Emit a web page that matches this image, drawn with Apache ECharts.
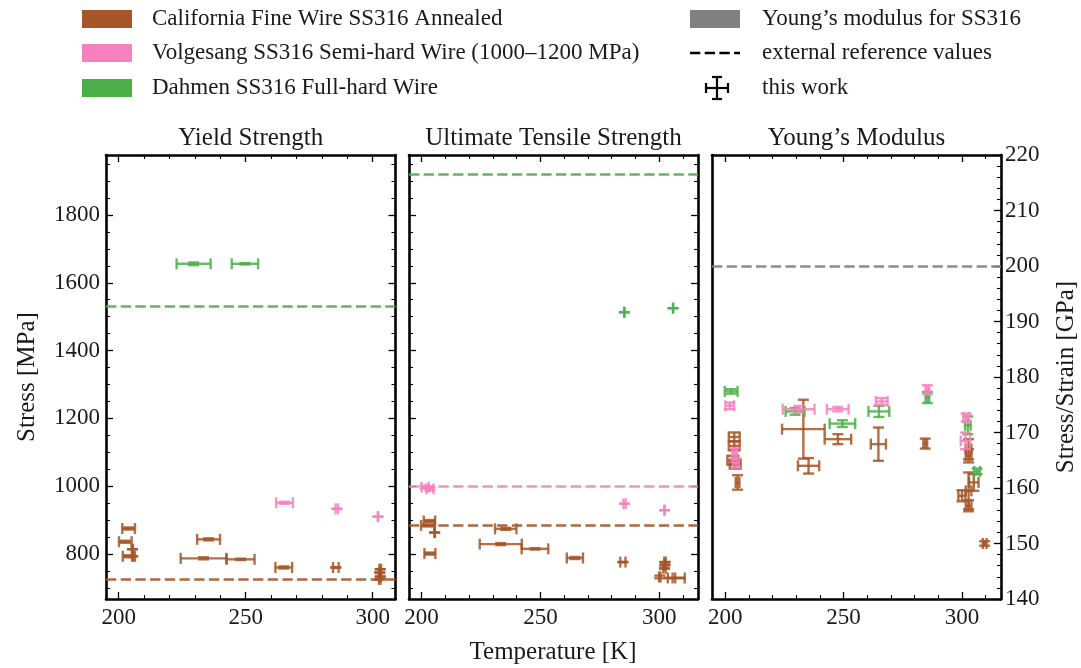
<!DOCTYPE html>
<html><head><meta charset="utf-8">
<script src="https://cdn.jsdelivr.net/npm/echarts@6/dist/echarts.min.js"></script>
<style>html,body{margin:0;padding:0;background:#fff}#c{width:1081px;height:668px}</style>
</head><body><div id="c"></div>
<script>
// ---------- DATA ----------  each point: [temperature K, value, xErr, yErr]
const panelTitles = ['Yield Strength', 'Ultimate Tensile Strength', "Young\u2019s Modulus"];
const seriesNames = ['California Fine Wire SS316 Annealed', 'Volgesang SS316 Semi-hard Wire (1000\u20131200 MPa)', 'Dahmen SS316 Full-hard Wire'];
const refLegendNames = ["Young\u2019s modulus for SS316", 'external reference values', 'this work'];

const yieldCalifornia = [
  [203.9, 875, 2.5, 3], [202.6, 836, 2.5, 3], [204.0, 793, 2.4, 3], [205.4, 814, 0.2, 0],
  [205.5, 793, 0.2, 0], [235.4, 843, 4.5, 3], [233.4, 787, 9.0, 3], [248.0, 784, 5.5, 2],
  [265.0, 760, 3.3, 3], [285.5, 760, 1.1, 0], [303.0, 755, 0.3, 0], [302.8, 745, 0.3, 0],
  [303.0, 733, 0.3, 2], [302.8, 725, 0.3, 0]
];
const yieldVolgesang = [[265.3, 951, 3.3, 3], [285.9, 933, 0.5, 0], [302.1, 910, 0, 0]];
const yieldDahmen = [[229.5, 1656, 6.7, 4], [249.7, 1656, 5.2, 2]];
const yieldRefs = [725, null, 1530];

const utsCalifornia = [
  [203.3, 897, 2.4, 3], [202.6, 884, 2.8, 3], [205.5, 863, 0, 0], [203.5, 801, 2.3, 3],
  [235.4, 874, 4.5, 3], [233.3, 829, 8.85, 3], [247.7, 815, 5.6, 2], [264.5, 788, 3.4, 3],
  [284.7, 776, 1.1, 0], [302.4, 776, 0.3, 0], [302.4, 768, 0.3, 0], [302.2, 758, 0.5, 2],
  [300.2, 732, 0.3, 4], [304.6, 729, 1.0, 0], [308.7, 729, 2, 0]
];
const utsVolgesang = [[201.5, 997, 1.5, 4], [203.5, 992, 1.5, 5], [285.4, 948, 0.5, 0], [302.2, 929, 0, 0]];
const utsDahmen = [[285.3, 1513, 0, 0], [305.8, 1525, 0, 0]];
const utsRefs = [885, 1000, 1920];

const youngCalifornia = [
  [203.8, 169.2, 2.3, 0.8], [203.8, 167.6, 2.3, 0.8], [203.2, 165.0, 2.3, 0.8], [204.2, 164.3, 2.3, 0.8],
  [205.2, 161.0, 0.8, 1.3], [233.0, 170.6, 9.0, 5.3], [235.2, 164.0, 4.5, 1.4], [247.6, 168.8, 5.6, 0.9],
  [264.7, 167.9, 3.2, 3.0], [284.5, 168.0, 0.8, 0.9], [302.8, 167.0, 1.2, 1.8], [302.8, 165.8, 1.2, 1.2],
  [302.8, 159.5, 1.2, 3.3], [305.0, 161.0, 2.0, 1.5], [300.0, 158.6, 1.5, 1.0], [302.8, 156.8, 1.2, 1.0],
  [309.6, 150.0, 0.8, 0.4]
];
const youngVolgesang = [
  [201.9, 174.8, 1.8, 0.6], [204.0, 166.2, 1.0, 1.0], [204.5, 164.5, 1.2, 0.8], [231.0, 174.2, 6.7, 0.6],
  [247.5, 174.2, 4.6, 0.4], [266.1, 175.6, 2.5, 0.6], [285.4, 177.7, 0.8, 0.8], [301.8, 172.7, 1.2, 0.7],
  [301.5, 168.5, 2.0, 1.5]
];
const youngDahmen = [
  [202.5, 177.4, 2.7, 0.4], [229.5, 173.8, 4.0, 0.6], [249.5, 171.6, 5.4, 0.6], [264.9, 173.8, 4.4, 1.0],
  [285.4, 176.3, 0.8, 1.0], [302.5, 171.3, 1.2, 1.6], [306.4, 163.0, 1.2, 0.5]
];
const youngRef = 200;

const xRanges = [[195.0, 309.0], [194.7, 316.3], [194.4, 316.5]];
const xMajorTicks = [200, 250, 300];
const xMinorTicks = [210, 220, 230, 240, 260, 270, 280, 290, 310];
const stressRange = [667, 1977];
const stressMajorTicks = [800, 1000, 1200, 1400, 1600, 1800];
const stressMinorTicks = [700, 750, 850, 900, 950, 1050, 1100, 1150, 1250, 1300, 1350, 1450, 1500, 1550, 1650, 1700, 1750, 1850, 1900, 1950];
const modRange = [140, 220];
const modMajorTicks = [140, 150, 160, 170, 180, 190, 200, 210, 220];
const modMinorTicks = [142,144,146,148,152,154,156,158,162,164,166,168,172,174,176,178,182,184,186,188,192,194,196,198,202,204,206,208,212,214,216,218];

// ---------- STYLE ----------
const COL = ['#a65628', '#f781bf', '#4daf4a'];
const GREY = '#808080';
const FONT = '"Liberation Serif", "DejaVu Serif", serif';
const TXT = '#1a1a1a';
const grids = [
  {left: 106, top: 155, width: 289.5, height: 444},
  {left: 409, top: 155, width: 289, height: 444},
  {left: 712, top: 155, width: 289, height: 444}
];

const xAxes = [], yAxes = [];
const plain = v => String(v);
function xAxisPair(g, pos, labels) {
  const [mn, mx] = xRanges[g];
  const minors = xMinorTicks.filter(v => v > mn && v < mx);
  const main = xAxes.length;
  xAxes.push({gridIndex: g, type: 'value', position: pos, min: mn, max: mx,
    axisLine: {show: true, onZero: false, lineStyle: {color: '#000', width: 2.6}},
    axisTick: {show: true, inside: true, length: 7, customValues: xMajorTicks, lineStyle: {color: '#000', width: 1.3}},
    axisLabel: {show: labels, customValues: xMajorTicks, formatter: plain, margin: 7, fontSize: 23, fontFamily: FONT, color: TXT},
    splitLine: {show: false}});
  xAxes.push({gridIndex: g, type: 'value', position: pos, min: mn, max: mx,
    axisLine: {show: false, onZero: false},
    axisTick: {show: true, inside: true, length: 4, customValues: minors, lineStyle: {color: '#000', width: 1.1}},
    axisLabel: {show: false}, splitLine: {show: false}});
  return main;
}
function yAxisPair(g, pos, range, majors, minorsAll, labels, ticks) {
  const main = yAxes.length;
  yAxes.push({gridIndex: g, type: 'value', position: pos, min: range[0], max: range[1],
    axisLine: {show: true, onZero: false, lineStyle: {color: '#000', width: 2.6}},
    axisTick: {show: ticks, inside: true, length: 7, customValues: majors, lineStyle: {color: '#000', width: 1.3}},
    axisLabel: {show: labels, customValues: majors, formatter: plain, margin: pos === 'left' ? 6 : 4, fontSize: 23, fontFamily: FONT, color: TXT},
    splitLine: {show: false}});
  yAxes.push({gridIndex: g, type: 'value', position: pos, min: range[0], max: range[1],
    axisLine: {show: false, onZero: false},
    axisTick: {show: ticks, inside: true, length: 4, customValues: minorsAll, lineStyle: {color: '#000', width: 1.1}},
    axisLabel: {show: false}, splitLine: {show: false}});
  return main;
}

const xMain = [], yMain = [];
for (let g = 0; g < 3; g++) {
  xMain.push(xAxisPair(g, 'bottom', true));
  xAxisPair(g, 'top', false);
}
yMain.push(yAxisPair(0, 'left', stressRange, stressMajorTicks, stressMinorTicks, true, true));
yAxisPair(0, 'right', stressRange, stressMajorTicks, stressMinorTicks, false, true);
yMain.push(yAxisPair(1, 'left', stressRange, stressMajorTicks, stressMinorTicks, false, true));
yAxisPair(1, 'right', stressRange, stressMajorTicks, stressMinorTicks, false, true);
yMain.push(yAxisPair(2, 'right', modRange, modMajorTicks, modMinorTicks, true, true));
yAxisPair(2, 'left', modRange, modMajorTicks, modMinorTicks, false, false);

function renderErr(params, api) {
  const x = api.value(0), y = api.value(1), xe = api.value(2), ye = api.value(3);
  const a = api.coord([x - xe, y]), b = api.coord([x + xe, y]);
  const c = api.coord([x, y - ye]), d = api.coord([x, y + ye]);
  const cap = 5.5;
  const st = {stroke: api.visual('color'), lineWidth: 2.4, opacity: 0.85};
  const L = (x1, y1, x2, y2) => ({type: 'line', shape: {x1, y1, x2, y2}, style: st});
  return {type: 'group', children: [
    L(a[0], a[1], b[0], b[1]), L(a[0], a[1] - cap, a[0], a[1] + cap), L(b[0], b[1] - cap, b[0], b[1] + cap),
    L(c[0], c[1], d[0], d[1]), L(c[0] - cap, c[1], c[0] + cap, c[1]), L(d[0] - cap, d[1], d[0] + cap, d[1])
  ]};
}

const series = [];
function refLine(g, value, color) {
  if (value == null) return;
  series.push({type: 'line', xAxisIndex: xMain[g], yAxisIndex: yMain[g], data: [], silent: true,
    markLine: {silent: true, symbol: ['none', 'none'], label: {show: false}, animation: false,
      lineStyle: {color: color, width: 2.6, type: [10.3, 4.4], opacity: 0.9}, data: [{yAxis: value}]}});
}
function errSeries(g, data, color) {
  series.push({type: 'custom', xAxisIndex: xMain[g], yAxisIndex: yMain[g], renderItem: renderErr,
    itemStyle: {color: color}, encode: {x: 0, y: 1}, data: data, silent: true, clip: false});
}
// panel 0
yieldRefs.forEach((v, i) => refLine(0, v, COL[i]));
errSeries(0, yieldCalifornia, COL[0]); errSeries(0, yieldVolgesang, COL[1]); errSeries(0, yieldDahmen, COL[2]);
// panel 1
utsRefs.forEach((v, i) => refLine(1, v, COL[i]));
errSeries(1, utsCalifornia, COL[0]); errSeries(1, utsVolgesang, COL[1]); errSeries(1, utsDahmen, COL[2]);
// panel 2
refLine(2, youngRef, GREY);
errSeries(2, youngCalifornia, COL[0]); errSeries(2, youngDahmen, COL[2]); errSeries(2, youngVolgesang, COL[1]);

// ---------- TEXT / LEGEND ----------
const graphic = [];
const txt = (text, x, y, size, align) => graphic.push({type: 'text', silent: true,
  style: {text, x, y, font: size + 'px ' + FONT, fill: TXT, textAlign: align || 'left', textVerticalAlign: 'middle'}});
panelTitles.forEach((t, g) => txt(t, grids[g].left + grids[g].width / 2, 138, 25, 'center'));
txt('Temperature [K]', 553, 652, 25, 'center');
graphic.push({type: 'text', silent: true, x: 27, y: 377, rotation: Math.PI / 2,
  style: {text: 'Stress [MPa]', x: 0, y: 0, font: '25px ' + FONT, fill: TXT, textAlign: 'center', textVerticalAlign: 'middle'}});
graphic.push({type: 'text', silent: true, x: 1066, y: 377, rotation: Math.PI / 2,
  style: {text: 'Stress/Strain [GPa]', x: 0, y: 0, font: '25px ' + FONT, fill: TXT, textAlign: 'center', textVerticalAlign: 'middle'}});

const rowY = [19, 53, 88];
seriesNames.forEach((n, i) => {
  graphic.push({type: 'rect', silent: true, shape: {x: 82, y: rowY[i] - 9, width: 50, height: 18}, style: {fill: COL[i]}});
  txt(n, 152, rowY[i], 23);
});
graphic.push({type: 'rect', silent: true, shape: {x: 690, y: rowY[0] - 9, width: 50, height: 18}, style: {fill: GREY}});
graphic.push({type: 'line', silent: true, shape: {x1: 690, y1: rowY[1], x2: 740, y2: rowY[1]}, style: {stroke: '#000', lineWidth: 2.6, lineDash: [10.3, 4.4]}});
{
  const cx = 717, cy = rowY[2], h = 11, v = 11, cap = 5;
  const st = {stroke: '#000', lineWidth: 2.2};
  [[cx - h, cy, cx + h, cy], [cx - h, cy - cap, cx - h, cy + cap], [cx + h, cy - cap, cx + h, cy + cap],
   [cx, cy - v, cx, cy + v], [cx - cap, cy - v, cx + cap, cy - v], [cx - cap, cy + v, cx + cap, cy + v]]
    .forEach(p => graphic.push({type: 'line', silent: true, shape: {x1: p[0], y1: p[1], x2: p[2], y2: p[3]}, style: st}));
}
refLegendNames.forEach((n, i) => txt(n, 762, rowY[i], 23));

const chart = echarts.init(document.getElementById('c'), null, {renderer: 'canvas'});
chart.setOption({animation: false, backgroundColor: '#fff', grid: grids, xAxis: xAxes, yAxis: yAxes, series, graphic});
</script></body></html>
